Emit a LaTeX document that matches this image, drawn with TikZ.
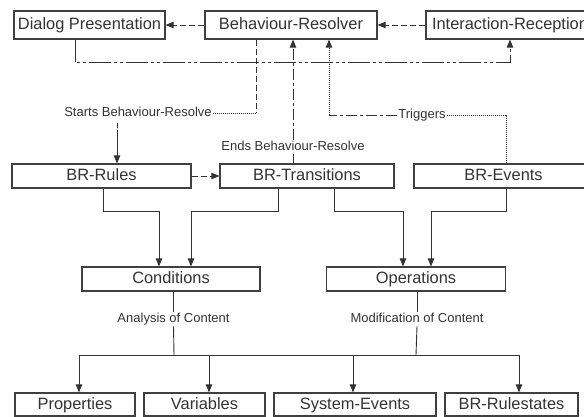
\documentclass[tikz,border=0pt]{standalone}
\usepackage{fontspec}
\setmainfont{Liberation Sans}
\usetikzlibrary{arrows.meta}
\definecolor{ink}{HTML}{333333}
\definecolor{frame}{HTML}{404040}

\tikzset{
  box/.style={draw=frame, line width=1.2pt, rectangle, inner sep=0pt,
              text=ink, font=\fontsize{16.4}{18}\selectfont,
              text height=11.9pt, text depth=2.4pt},
  lbl/.style={text=ink, font=\fontsize{13}{14}\selectfont, inner sep=1pt,
              text height=9.5pt, text depth=2.7pt},
  link/.style={draw=ink, line width=0.9pt},
  tip/.style={-{Triangle[length=8pt,width=6.5pt]}},
  dashline/.style={dash pattern=on 6pt off 3pt},
  dotline/.style={dash pattern=on 1pt off 1pt},
  dashdot/.style={dash pattern=on 11pt off 3pt on 3pt off 3pt},
  dashdotdot/.style={dash pattern=on 22pt off 3pt on 3pt off 3pt on 3pt off 3pt},
}

\begin{document}
\begin{tikzpicture}[x=1pt, y=-1pt]
  \useasboundingbox (0,0) rectangle (584,417);
  \clip (0,0) rectangle (584,417);
  \fill[white] (0,0) rectangle (584,417);

  % top row
  \node[box, minimum width=151pt, minimum height=28pt] (dp) at (89.5,25) {Dialog Presentation};
  \node[box, minimum width=172pt, minimum height=28pt] (br) at (291,25) {Behaviour-Resolver};
  \node[box, minimum width=168pt, minimum height=28pt] (ir) at (510,25) {Interaction-Reception};

  % rule engine row
  \node[box, minimum width=179pt, minimum height=24pt] (rules)  at (101.5,176) {BR-Rules};
  \node[box, minimum width=174pt, minimum height=24pt] (trans)  at (307,176)   {BR-Transitions};
  \node[box, minimum width=179pt, minimum height=24pt] (events) at (503.5,176) {BR-Events};

  % middle row
  \node[box, minimum width=178pt, minimum height=24pt] (cond) at (171,279) {Conditions};
  \node[box, minimum width=179pt, minimum height=24pt] (ops)  at (416,279) {Operations};

  % bottom row
  \node[box, minimum width=120pt, minimum height=23pt] (props)  at (75,404.5)    {Properties};
  \node[box, minimum width=121pt, minimum height=23pt] (vars)   at (204.5,404.5) {Variables};
  \node[box, minimum width=162pt, minimum height=23pt] (sysev)  at (355,404.5)   {System-Events};
  \node[box, minimum width=133pt, minimum height=23pt] (rulest) at (511.5,404.5) {BR-Rulestates};

  % edge labels
  \node[lbl] (starts) at (138,113)   {Starts Behaviour-Resolve};
  \node[lbl] (ends)   at (293,147)   {Ends Behaviour-Resolve};
  \node[lbl] (trig)   at (422,115)   {Triggers};
  \node[lbl] (anal)   at (173.5,319) {Analysis of Content};
  \node[lbl] (modif)  at (417,319)   {Modification of Content};

  % bend points
  \coordinate (sbend) at (256,113);
  \coordinate (sdrop) at (117,123);
  \coordinate (evup)  at (506,115);
  \coordinate (trup)  at (329,115);
  \coordinate (hubA)  at (174,355);
  \coordinate (hubM)  at (416,355);

  % top row flow
  \draw[link,dashline,tip] (br.west) -- (dp.east);
  \draw[link,dashline,tip] (ir.west) -- (br.east);
  \draw[link,dashdotdot,tip] ([xshift=-14.5pt]dp.south) -- ++(0,23) -| (ir.south);

  % start of resolving
  \draw[link,dashline] (br.south -| sbend) -- (sbend);
  \draw[link,dotline] (sbend) -- (starts.east);
  \draw[link,tip,dash pattern=on 5pt off 2pt on 60pt off 0pt] (sdrop) -- (sdrop |- rules.north);

  % end of resolving
  \draw[link] (trans.north -| ends.south) -- (ends.south);
  \draw[link,dashdot,tip] (ends.north) -- (ends.north |- br.south);

  % triggers
  \draw[link,dotline] (evup |- events.north) -- (evup) -- (trig.east);
  \draw[link,dashdot] (trig.west) -- (trup);
  \draw[link,dotline,tip] (trup) -- (trup |- br.south);

  % rules to transitions
  \draw[link,dashline,tip] (rules.east) -- (trans.west);

  % into conditions and operations
  \draw[link,tip] ([xshift=1.5pt]rules.south) -- ++(0,23) -| ([xshift=-12pt]cond.north);
  \draw[link,tip] ([xshift=-29pt]trans.south) -- ++(0,23) -| ([xshift=20pt]cond.north);
  \draw[link,tip] ([xshift=27pt]trans.south) -- ++(0,23) -| ([xshift=-13pt]ops.north);
  \draw[link,tip] ([xshift=2.5pt]events.south) -- ++(0,23) -| ([xshift=15pt]ops.north);

  % content analysis and modification
  \draw[link] (cond.south -| anal.north) -- (anal.north);
  \draw[link] (anal.south) -- (hubA);
  \draw[link] (ops.south -| modif.north) -- (modif.north);
  \draw[link] (modif.south) -- (hubM);
  \draw[link] (hubA) -- (hubM);
  \draw[link,tip] (hubA) -| ([xshift=4pt]props.north);
  \draw[link,tip] (hubA) -| ([xshift=4.5pt]vars.north);
  \draw[link,tip] (hubM) -| ([xshift=-2pt]sysev.north);
  \draw[link,tip] (hubM) -| ([xshift=7.5pt]rulest.north);
\end{tikzpicture}
\end{document}
